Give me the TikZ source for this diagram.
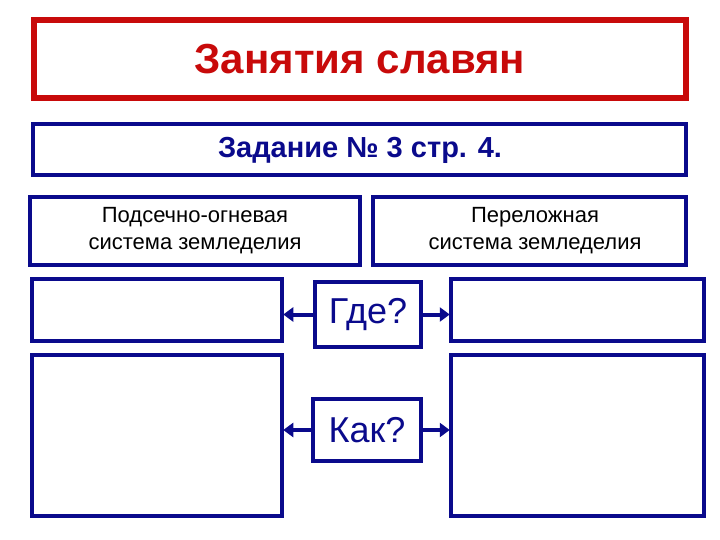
\documentclass[tikz,border=0pt]{standalone}
\usepackage{fontspec}
\setmainfont{Liberation Sans}
\usetikzlibrary{arrows.meta}
\definecolor{nv}{RGB}{10,10,140}
\definecolor{rd}{RGB}{200,10,10}
\begin{document}
\begin{tikzpicture}[x=1pt,y=-1pt,
 bx/.style={draw=nv,line width=4.5pt},
 arr/.style={draw=nv,line width=4pt,-{Triangle[length=10pt,width=14pt]},shorten >=-1pt}]
\useasboundingbox (0,0) rectangle (720,540);
\draw[draw=rd,line width=6pt] (34,20) rectangle (686,98);
\node[text=rd,font=\bfseries\fontsize{42}{46}\selectfont] (t) at (360,59) {Занятия славян};
\draw[bx] (33,124) rectangle (686,175);
\node[text=nv,font=\bfseries\fontsize{29}{32}\selectfont] (s) at (360,150) {Задание № 3 стр. 4.};
\draw[bx] (30,197) rectangle (360,265);
\node[font=\fontsize{22}{27}\selectfont,align=center] (l) at (195,231) {Подсечно-огневая\\система земледелия};
\draw[bx] (373,197) rectangle (686,265);
\node[font=\fontsize{22}{27}\selectfont,align=center] (r) at (535,231) {Переложная\\система земледелия};
\node[bx,minimum width=106pt,minimum height=65pt,inner sep=0pt] (g) at (368,314.5) {};
\node[text=nv,font=\fontsize{36}{40}\selectfont] at (g.center) {Где?};
\node[bx,minimum width=108pt,minimum height=62pt,inner sep=0pt] (k) at (367,430) {};
\node[text=nv,font=\fontsize{36}{40}\selectfont] at (k.center) {Как?};
\node[bx,minimum width=250pt,minimum height=62pt,inner sep=0pt] (lm) at (157,310) {};
\node[bx,minimum width=253pt,minimum height=62pt,inner sep=0pt] (rm) at (577.5,310) {};
\node[bx,minimum width=250pt,minimum height=161pt,inner sep=0pt] (lb) at (157,435.5) {};
\node[bx,minimum width=253pt,minimum height=161pt,inner sep=0pt] (rb) at (577.5,435.5) {};
\draw[arr] (g.west) -- (g.west -| lm.east);
\draw[arr] (g.east) -- (g.east -| rm.west);
\draw[arr] (k.west) -- (k.west -| lb.east);
\draw[arr] (k.east) -- (k.east -| rb.west);
\end{tikzpicture}
\end{document}
